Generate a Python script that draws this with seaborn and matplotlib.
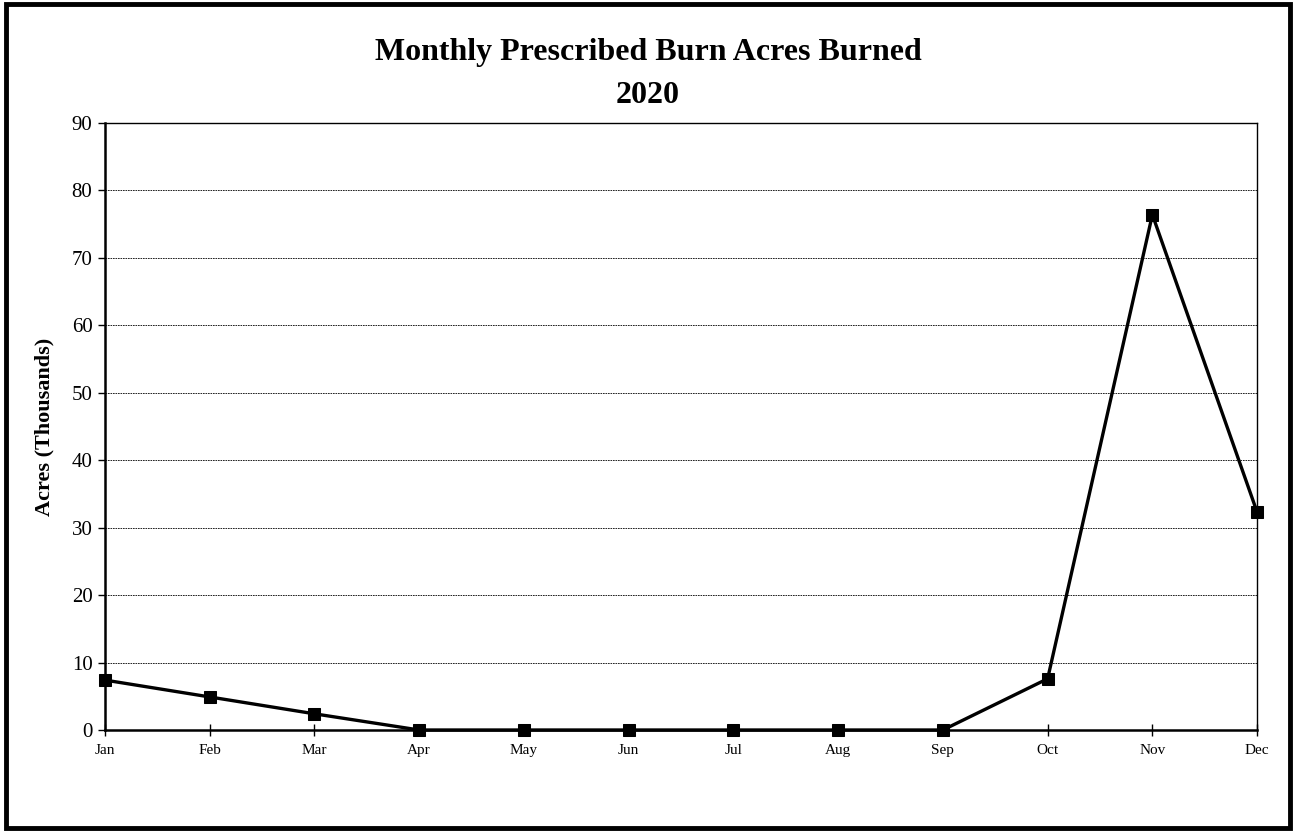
import seaborn as sns
import matplotlib.pyplot as plt
import matplotlib.patches as patches
import pandas as pd

months = ["Jan", "Feb", "Mar", "Apr", "May", "Jun", "Jul", "Aug", "Sep", "Oct", "Nov", "Dec"]
acres = [7.4, 4.9, 2.4, 0.0, 0.0, 0.0, 0.0, 0.0, 0.0, 7.6, 76.4, 32.3]

sns.set_style("white")
plt.rcParams["font.family"] = ["Liberation Serif", "DejaVu Serif"]
plt.rcParams["text.color"] = "black"
plt.rcParams["xtick.color"] = "black"
plt.rcParams["ytick.color"] = "black"
plt.rcParams["axes.labelcolor"] = "black"

dta = pd.DataFrame({"month": range(len(months)), "acres": acres})

fig = plt.figure(figsize=(12.96, 8.32), dpi=100)
ax = fig.add_axes([0.081, 0.1226, 0.889, 0.7296])

sns.lineplot(x="month", y="acres", data=dta, ax=ax, color="black",
             linewidth=2.4, marker="s", markersize=8.5, markeredgecolor="black",
             clip_on=False, zorder=5)

ax.set_xlim(0, 11)
ax.set_ylim(0, 90)
ax.set_yticks(range(0, 91, 10))
ax.set_xticks(range(len(months)))
ax.set_xticklabels(months, fontsize=11)
ax.tick_params(axis="y", labelsize=15, direction="out", length=5, width=1, left=True, pad=4)
ax.tick_params(axis="x", direction="inout", length=8, width=1, bottom=True, pad=6)
ax.grid(axis="y", color="black", linestyle=(0, (2, 1)), linewidth=0.6)
ax.set_xlabel("")
ax.set_ylabel("Acres (Thousands)", fontsize=16, fontweight="bold", labelpad=12)
for side in ["left", "bottom"]:
    ax.spines[side].set_linewidth(1.8)
    ax.spines[side].set_color("black")
for side in ["top", "right"]:
    ax.spines[side].set_linewidth(1.0)
    ax.spines[side].set_color("black")

fig.text(0.5, 0.911, "Monthly Prescribed Burn Acres Burned\n2020", ha="center", va="center",
         fontsize=23, fontweight="bold", linespacing=1.6)

# outer frame
fig.patches.append(patches.Rectangle((0.005, 0.005), 0.99, 0.99, transform=fig.transFigure,
                                     fill=False, edgecolor="black", linewidth=3.5))

fig.savefig("out.png", dpi=100)
